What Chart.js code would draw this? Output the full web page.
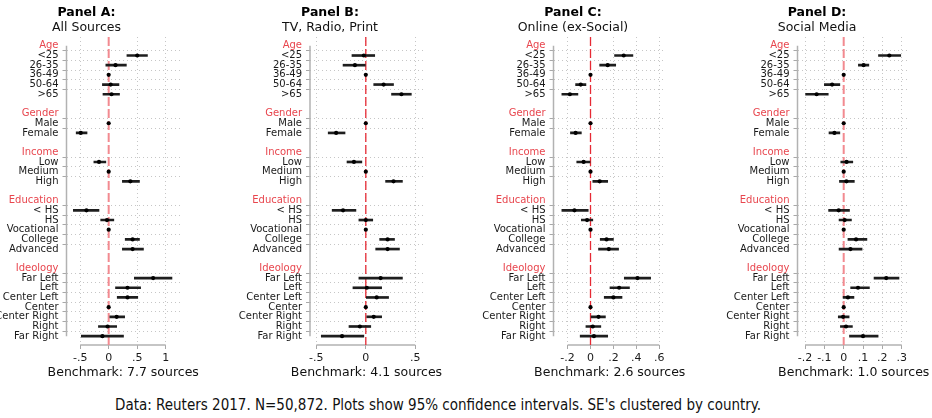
<!DOCTYPE html>
<html>
<head>
<meta charset="utf-8">
<script src="https://cdn.jsdelivr.net/npm/chart.js@4.4.1/dist/chart.umd.min.js"></script>
<style>
  html, body { margin: 0; padding: 0; background: #fff; }
  #wrap { position: relative; width: 932px; height: 418px; overflow: hidden; }
  #wrap canvas { position: absolute; top: 0; }
  #note {
    position: absolute; left: 0; top: 396px; width: 876px;
    text-align: center; font: 15px "DejaVu Sans Condensed", "DejaVu Sans", sans-serif;
    font-stretch: condensed; color: #111; line-height: 18px;
  }
</style>
</head>
<body>
<div id="wrap">
  <div id="note">Data: Reuters 2017. N=50,872. Plots show 95% confidence intervals. SE's clustered by country.</div>
</div>
<script>
// Row labels down the y axis (group headers, items, spacer rows)
const groupNames = ["Age", "Gender", "Income", "Education", "Ideology"];
const rowLabels = [
  "Age", "<25", "26-35", "36-49", "50-64", ">65", "",
  "Gender", "Male", "Female", "",
  "Income", "Low", "Medium", "High", "",
  "Education", "< HS", "HS", "Vocational", "College", "Advanced", "",
  "Ideology", "Far Left", "Left", "Center Left", "Center", "Center Right", "Right", "Far Right",
];

// Estimates and 95% CIs, one entry per item row (reference categories have no CI)
const estA = [0.50, 0.12, 0, 0.035, 0.05, 0, -0.49, -0.17, 0, 0.38, -0.39, -0.03, 0, 0.42, 0.42, 0.78, 0.33, 0.33, 0, 0.14, -0.02, -0.11];
const loA  = [0.32, -0.05, null, -0.11, -0.10, null, -0.57, -0.26, null, 0.24, -0.62, -0.14, null, 0.29, 0.24, 0.45, 0.12, 0.15, null, 0.02, -0.18, -0.48];
const hiA  = [0.68, 0.31, null, 0.18, 0.19, null, -0.38, -0.05, null, 0.54, -0.17, 0.09, null, 0.54, 0.61, 1.11, 0.56, 0.51, null, 0.28, 0.14, 0.26];

const estB = [-0.02, -0.11, 0, 0.18, 0.36, 0, -0.30, -0.12, 0, 0.28, -0.23, 0.0, 0, 0.22, 0.22, 0.15, 0.01, 0.11, 0, 0.08, -0.06, -0.24];
const loB  = [-0.14, -0.23, null, 0.08, 0.26, null, -0.38, -0.19, null, 0.20, -0.34, -0.07, null, 0.14, 0.10, -0.07, -0.13, 0.0, null, 0.01, -0.17, -0.45];
const hiB  = [0.09, 0.0, null, 0.28, 0.46, null, -0.21, -0.04, null, 0.37, -0.10, 0.07, null, 0.29, 0.34, 0.37, 0.16, 0.23, null, 0.16, 0.05, -0.02];

const estC = [0.29, 0.15, 0, -0.085, -0.18, 0, -0.13, -0.06, 0, 0.08, -0.14, -0.03, 0, 0.14, 0.16, 0.41, 0.25, 0.20, 0, 0.07, 0.02, 0.03];
const loC  = [0.21, 0.08, null, -0.13, -0.25, null, -0.175, -0.12, null, 0.02, -0.25, -0.08, null, 0.085, 0.07, 0.295, 0.17, 0.12, null, 0.005, -0.04, -0.09];
const hiC  = [0.37, 0.22, null, -0.04, -0.11, null, -0.08, 0.0, null, 0.15, -0.02, 0.02, null, 0.20, 0.245, 0.525, 0.34, 0.275, null, 0.13, 0.09, 0.15];

const estD = [0.236, 0.103, 0, -0.06, -0.14, 0, -0.048, 0.015, 0, 0.014, -0.026, 0.005, 0, 0.064, 0.035, 0.22, 0.074, 0.022, 0, -0.003, 0.012, 0.10];
const loD  = [0.18, 0.076, null, -0.10, -0.197, null, -0.076, -0.015, null, -0.022, -0.078, -0.024, null, 0.022, -0.024, 0.157, 0.036, -0.003, null, -0.028, -0.017, 0.03];
const hiD  = [0.295, 0.13, null, -0.02, -0.08, null, -0.02, 0.047, null, 0.055, 0.03, 0.04, null, 0.12, 0.095, 0.286, 0.133, 0.053, null, 0.028, 0.045, 0.178];

// x-axis tick values per panel
const ticksA = [-0.5, 0, 0.5, 1];
const ticksB = [-0.5, 0, 0.5];
const ticksC = [-0.2, 0, 0.2, 0.4, 0.6];
const ticksD = [-0.2, -0.1, 0, 0.1, 0.2, 0.3];

const titles = ["Panel A:", "Panel B:", "Panel C:", "Panel D:"];
const subtitles = ["All Sources", "TV, Radio, Print", "Online (ex-Social)", "Social Media"];
const benchmarks = ["Benchmark: 7.7 sources", "Benchmark: 4.1 sources", "Benchmark: 2.6 sources", "Benchmark: 1.0 sources"];

const FONT = "'DejaVu Sans', sans-serif";
const RED = "#e8464e";
const itemRows = rowLabels.map((_, i) => i).filter((i) => rowLabels[i] !== "" && !groupNames.includes(rowLabels[i]));
const itemSet = new Set(itemRows);

// Stata-style tick text: ".5", "-.2", "0", "1"
const fmtTick = (v) => (v < 0 ? "-" : "") + String(+Math.abs(v).toFixed(2)).replace(/^0\./, ".");

const panels = [
  { est: estA, lo: loA, hi: hiA, ticks: ticksA, left: 66.5, right: 180, min: -0.740, max: 1.251, zero: "#f28a90", zeroW: 2 },
  { est: estB, lo: loB, hi: hiB, ticks: ticksB, left: 310, right: 423, min: -0.564, max: 0.578, zero: "#e62a34", zeroW: 1.3 },
  { est: estC, lo: loC, hi: hiC, ticks: ticksC, left: 553.5, right: 666, min: -0.323, max: 0.659, zero: "#e62a34", zeroW: 1.3 },
  { est: estD, lo: loD, hi: hiD, ticks: ticksD, left: 797.5, right: 910, min: -0.239, max: 0.343, zero: "#f28a90", zeroW: 2 },
];

const CW = 260, CH = 390;
const wrap = document.getElementById("wrap");

panels.forEach((p, k) => {
  const center = (p.left + p.right) / 2;
  const canvasLeft = Math.round(center - CW / 2);
  const yWidth = p.left - canvasLeft;
  const padRight = canvasLeft + CW - p.right;

  const canvas = document.createElement("canvas");
  canvas.width = CW;
  canvas.height = CH;
  canvas.style.left = canvasLeft + "px";
  canvas.style.width = CW + "px";
  canvas.style.height = CH + "px";
  wrap.appendChild(canvas);

  const ciData = [];
  const pointData = [];
  itemRows.forEach((row, j) => {
    pointData.push({ x: p.est[j], y: row });
    if (p.lo[j] !== null) ciData.push({ x: [p.lo[j], p.hi[j]], y: row });
  });

  // axis lines over the tick range, dashed zero line, benchmark caption
  const frame = {
    id: "frame",
    beforeDatasetsDraw(chart) {
      const { ctx, chartArea, scales: { x, y } } = chart;
      ctx.save();
      ctx.strokeStyle = "#b2b2b2";
      ctx.lineWidth = 1.5;
      ctx.beginPath();
      ctx.moveTo(x.getPixelForValue(p.ticks[0]), chartArea.bottom);
      ctx.lineTo(x.getPixelForValue(p.ticks[p.ticks.length - 1]), chartArea.bottom);
      ctx.moveTo(chartArea.left, y.getPixelForValue(0));
      ctx.lineTo(chartArea.left, y.getPixelForValue(rowLabels.length - 1));
      ctx.stroke();

      const zx = x.getPixelForValue(0);
      ctx.strokeStyle = p.zero;
      ctx.lineWidth = p.zeroW;
      ctx.setLineDash([9, 3]);
      ctx.beginPath();
      ctx.moveTo(zx, chartArea.top);
      ctx.lineTo(zx, chartArea.bottom);
      ctx.stroke();
      ctx.restore();
    },
    afterDraw(chart) {
      // drawn by hand so the caption is not squeezed to the plot width
      const { ctx, chartArea } = chart;
      ctx.save();
      ctx.fillStyle = "#111";
      ctx.font = "12.5px " + FONT;
      ctx.textAlign = "center";
      ctx.textBaseline = "middle";
      ctx.fillText(benchmarks[k], (chartArea.left + chartArea.right) / 2, 373);
      ctx.restore();
    },
  };

  new Chart(canvas, {
    type: "bar",
    data: {
      datasets: [
        {
          type: "scatter",
          data: pointData,
          pointRadius: 2.1,
          pointBackgroundColor: "#000",
          pointBorderWidth: 0,
          order: 0,
        },
        {
          type: "bar",
          data: ciData,
          backgroundColor: "#1e1e1e",
          borderWidth: 0,
          barThickness: 2,
          grouped: false,
          order: 1,
        },
      ],
    },
    options: {
      indexAxis: "y",
      responsive: false,
      animation: false,
      events: [],
      devicePixelRatio: 1,
      layout: { padding: { left: 0, right: padRight, top: 0, bottom: 0 } },
      plugins: {
        legend: { display: false },
        tooltip: { enabled: false },
        title: {
          display: true,
          text: titles[k],
          color: "#000",
          font: { family: FONT, size: 12.5, weight: "bold", lineHeight: 1.2 },
          padding: { top: 5, bottom: 0 },
        },
        subtitle: {
          display: true,
          text: subtitles[k],
          color: "#111",
          font: { family: FONT, size: 12.5, lineHeight: 1.2 },
          padding: { top: 0, bottom: 2 },
        },
      },
      scales: {
        x: {
          type: "linear",
          min: p.min,
          max: p.max,
          afterBuildTicks: (axis) => { axis.ticks = p.ticks.map((v) => ({ value: v })); },
          afterFit: (axis) => { axis.height = 45; },
          border: { display: false, dash: [1, 3] },
          grid: { color: "#c6c6c6", lineWidth: 1, tickLength: 4, tickColor: "#a8a8a8" },
          ticks: {
            autoSkip: false,
            maxRotation: 0,
            padding: 3,
            color: "#1a1a1a",
            font: { family: FONT, size: 11 },
            callback: (v) => fmtTick(v),
          },
        },
        y: {
          type: "linear",
          reverse: true,
          min: -0.4,
          max: rowLabels.length - 0.6,
          afterBuildTicks: (axis) => { axis.ticks = rowLabels.map((_, i) => ({ value: i })); },
          afterFit: (axis) => { axis.width = yWidth; },
          border: { display: false, dash: [1, 3] },
          grid: {
            lineWidth: 1,
            tickLength: 4,
            color: (c) => (c.tick && itemSet.has(c.tick.value) ? "#c6c6c6" : "rgba(0,0,0,0)"),
            tickColor: (c) => (c.tick && itemSet.has(c.tick.value) ? "#a8a8a8" : "rgba(0,0,0,0)"),
          },
          ticks: {
            autoSkip: false,
            padding: 4,
            font: { family: FONT, size: 10 },
            color: (c) => (c.tick && groupNames.includes(rowLabels[c.tick.value]) ? RED : "#1a1a1a"),
            callback: (v) => rowLabels[v],
          },
        },
      },
    },
    plugins: [frame],
  });
});
</script>
</body>
</html>
